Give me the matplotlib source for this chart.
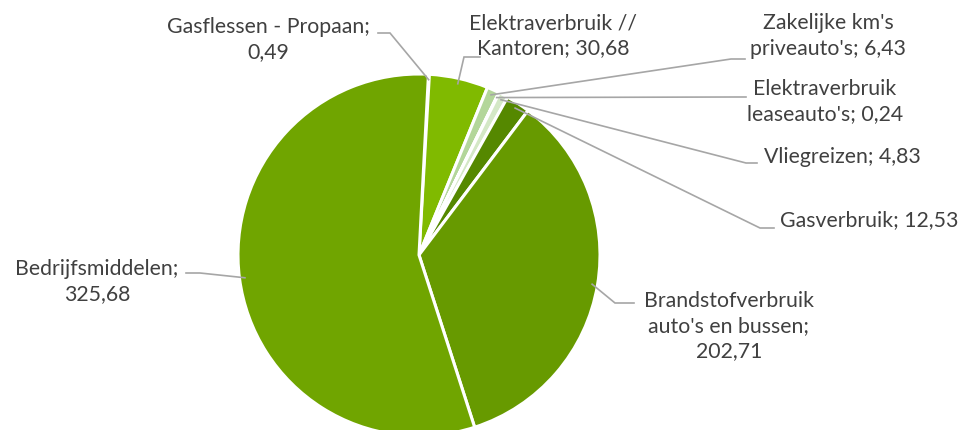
import numpy as np
import matplotlib
matplotlib.use("Agg")
import matplotlib.pyplot as plt

plt.rcParams['font.family'] = ['Lato', 'DejaVu Sans']

# data (order as drawn, clockwise from the top)
categories = ["Gasflessen - Propaan", "Elektraverbruik // Kantoren", "Zakelijke km's priveauto's",
              "Elektraverbruik leaseauto's", "Vliegreizen", "Gasverbruik",
              "Brandstofverbruik auto's en bussen", "Bedrijfsmiddelen"]
values = [0.49, 30.68, 6.43, 0.24, 4.83, 12.53, 202.71, 325.68]
label_texts = ["Gasflessen - Propaan;\n0,49", "Elektraverbruik //\nKantoren; 30,68",
               "Zakelijke km's\npriveauto's; 6,43", "Elektraverbruik\nleaseauto's; 0,24",
               "Vliegreizen; 4,83", "Gasverbruik; 12,53",
               "Brandstofverbruik\nauto's en bussen;\n202,71", "Bedrijfsmiddelen;\n325,68"]
colors = ["#72A600", "#80BA00", "#B3D69A", "#C8E2B4", "#D4E8C6", "#558800", "#679A00", "#70A500"]

# layout (pixels, y measured from top)
W, H = 968, 430
cx, cy, R = 419, 255, 181
text_pos = [(268, 40), (553, 36), (828, 36), (825, 102), (842, 157), (869, 220), (729, 326), (97, 282)]
leader_end = [(378, 33), (480, 57), (745, 59), (746, 97), (757, 163), (774, 228), (634, 303), (186, 273)]
elbow = [(390, 33), (464, 57), (731, 59), (736, 97), (746, 163), (760, 228), (615, 303), (200, 273)]

fig = plt.figure(figsize=(W / 100, H / 100), dpi=100)
ax = fig.add_axes([0, 0, 1, 1])

wedges, _ = ax.pie(values, colors=colors, startangle=87, counterclock=False,
                   center=(cx, H - cy), radius=R,
                   wedgeprops=dict(edgecolor='white', linewidth=2.2))

for w, txt, tp, le, eb in zip(wedges, label_texts, text_pos, leader_end, elbow):
    mid = np.deg2rad((w.theta1 + w.theta2) / 2)
    ax_x = cx + 0.97 * R * np.cos(mid)
    ax_y = (H - cy) + 0.97 * R * np.sin(mid)
    ax.plot([ax_x, eb[0], le[0]], [ax_y, H - eb[1], H - le[1]],
            color='#A6A6A6', lw=1.2, solid_joinstyle='miter')
    ax.text(tp[0], H - tp[1], txt, ha='center', va='center', fontsize=15.3,
            color='#404040', linespacing=1.32)

ax.set_xlim(0, W)
ax.set_ylim(0, H)
ax.set_aspect('auto')
ax.axis('off')

fig.savefig("out.png", dpi=100, facecolor='white')
